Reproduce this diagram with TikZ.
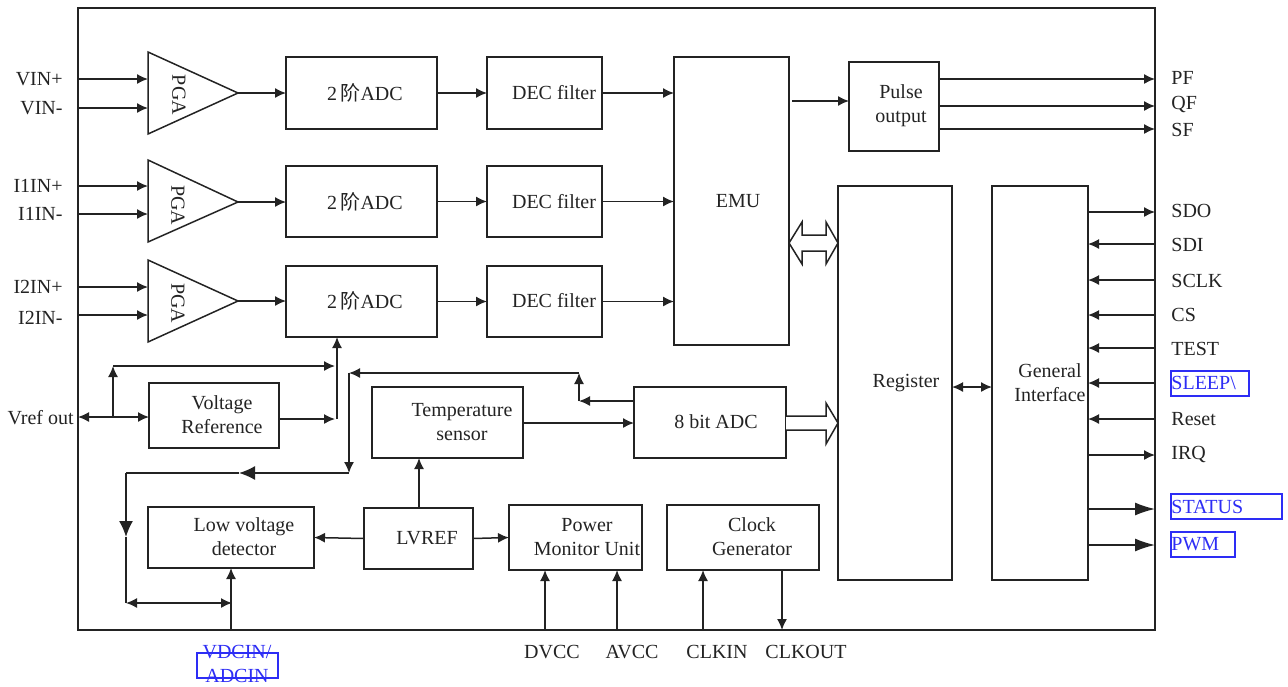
\documentclass[tikz,border=0pt]{standalone}
\usepackage{fontspec}
\setmainfont{Liberation Serif}
\newfontfamily\cjk{Noto Sans CJK SC}
\usetikzlibrary{arrows.meta,fit,calc}
\definecolor{ink}{RGB}{35,35,35}
\definecolor{pinblue}{RGB}{45,45,245}
\tikzset{
  x=0.5pt, y=-0.5pt,
  every node/.style={font=\fontsize{10pt}{12pt}\selectfont, text=ink},
  blk/.style={draw=ink, line width=0.75pt, inner sep=0pt, outer sep=0pt, rectangle},
  txt/.style={align=center, inner sep=0pt},
  wire/.style={draw=ink, line width=0.75pt},
  arr/.style={wire, -{Latex[length=5.5pt,width=5pt]}},
  barr/.style={wire, {Latex[length=5.5pt,width=5pt]}-{Latex[length=5.5pt,width=5pt]}},
  bigarr/.style={wire, -{Latex[length=8pt,width=7pt]}},
  pinarr/.style={wire, -{Latex[length=10pt,width=6.5pt]}},
  hollow/.style={draw=ink, fill=white, line width=0.75pt, line join=miter},
  pinl/.style={anchor=west, inner sep=0pt},
  pinr/.style={anchor=east, inner sep=0pt},
  bluebox/.style={draw=pinblue, line width=0.9pt},
}
\newcommand\blkbox[8]{\node[blk, fit={(#2,#3) (#4,#5)}] (#1) {};\node[txt] (#1-t) at (#6,#7) {#8};}
\begin{document}
\begin{tikzpicture}
\useasboundingbox (0,0) rectangle (1288,686);
% outer frame
\node[blk, line width=1pt, fit={(78,8) (1155,630)}] (frame) {};

% blocks
\blkbox{adc1}{286}{57}{437}{129}{365}{93}{2\,{\cjk 阶}ADC}
\blkbox{adc2}{286}{166}{437}{237}{365}{202}{2\,{\cjk 阶}ADC}
\blkbox{adc3}{286}{266}{437}{337}{365}{301}{2\,{\cjk 阶}ADC}
\blkbox{dec1}{487}{57}{602}{129}{554}{93}{DEC filter}
\blkbox{dec2}{487}{166}{602}{237}{554}{202}{DEC filter}
\blkbox{dec3}{487}{266}{602}{337}{554}{301}{DEC filter}
\blkbox{emu}{674}{57}{789}{345}{738}{201}{EMU}
\blkbox{pulse}{849}{62}{939}{151}{901}{106}{Pulse\\output}
\blkbox{reg}{838}{186}{952}{580}{906}{383}{Register}
\blkbox{gi}{992}{186}{1088}{580}{1050}{383}{General\\Interface}
\blkbox{vr}{149}{383}{279}{448}{222}{415}{Voltage\\Reference}
\blkbox{temp}{372}{387}{523}{458}{462}{422}{Temperature\\sensor}
\blkbox{adc8}{634}{387}{786}{458}{716}{422}{8 bit ADC}
\blkbox{lvd}{148}{507}{314}{568}{244}{537}{Low voltage\\detector}
\blkbox{lvref}{364}{508}{473}{569}{427}{538}{LVREF}
\blkbox{pmu}{509}{505}{642}{570}{587}{537}{Power\\Monitor Unit}
\blkbox{clk}{667}{505}{819}{570}{752}{537}{Clock\\Generator}

% PGA triangles
\foreach \i/\t/\a/\b in {1/52/93/134, 2/160/202/242, 3/260/301/342}{
  \draw[wire, line join=miter] (148,\t) -- (238,\a) -- (148,\b) -- cycle;
  \coordinate (pga\i o) at (238,\a);
}
\node[txt, rotate=-90] (pga1t) at (179,95) {PGA};
\node[txt, rotate=-90] (pga2t) at (178,205) {PGA};
\node[txt, rotate=-90] (pga3t) at (178,303) {PGA};

% left input pins
\node[pinr] (vinp) at (63,79) {VIN+};
\node[pinr] (vinm) at (63,108) {VIN-};
\node[pinr] (i1p) at (63,186) {I1IN+};
\node[pinr] (i1m) at (63,214) {I1IN-};
\node[pinr] (i2p) at (63,287) {I2IN+};
\node[pinr] (i2m) at (63,318) {I2IN-};
\foreach \n/\y in {vinp/79, vinm/108, i1p/186, i1m/214, i2p/287, i2m/315}{
  \draw[arr] (frame.west |- 0,\y) -- (148,\y);
}

% PGA -> ADC -> DEC -> EMU
\foreach \i in {1,2,3}{
  \draw[arr] (pga\i o) -- (adc\i.west |- pga\i o);
  \draw[arr] (adc\i.east) -- (dec\i.west);
  \draw[arr] (dec\i.east) -- (dec\i.east -| emu.west);
}

% EMU -> pulse
\draw[arr] (792,101) -- (pulse.west |- 0,101);

% pulse outputs
\node[pinl] (pf) at (1171,78) {PF};
\node[pinl] (qf) at (1171,104) {QF};
\node[pinl] (sf) at (1171,130) {SF};
\draw[arr] (pulse.east |- 0,79) -- (frame.east |- 0,79);
\draw[arr] (pulse.east |- 0,106) -- (frame.east |- 0,106);
\draw[arr] (pulse.east |- 0,129) -- (frame.east |- 0,129);

% EMU <=> Register hollow double arrow
\draw[hollow] (emu.east |- 0,243) -- (802,222) -- (802,235) -- (826,235) -- (826,222) -- (reg.west |- 0,243)
  -- (826,264) -- (826,251) -- (802,251) -- (802,264) -- cycle;

% 8 bit ADC => Register hollow arrow
\draw[hollow] (adc8.east |- 0,416) -- (826,416) -- (826,403) -- (reg.west |- 0,423) -- (826,444) -- (826,430) -- (adc8.east |- 0,430);

% Register <-> General interface
\draw[barr] (reg.east |- 0,387) -- (gi.west |- 0,387);

% right-side interface pins
\node[pinl] (sdo) at (1171,211) {SDO};
\node[pinl] (sdi) at (1171,245) {SDI};
\node[pinl] (sclk) at (1171,281) {SCLK};
\node[pinl] (cs) at (1171,315) {CS};
\node[pinl] (test) at (1171,349) {TEST};
\node[pinl, text=pinblue] (sleep) at (1171,383) {SLEEP\textbackslash};
\node[pinl] (reset) at (1171,419) {Reset};
\node[pinl] (irq) at (1171,454) {IRQ};
\node[pinl, text=pinblue] (status) at (1171,507) {STATUS};
\node[pinl, text=pinblue] (pwm) at (1171,544) {PWM};
\draw[bluebox] (1171,371) rectangle (1249,396);
\draw[bluebox] (1171,494) rectangle (1282,519);
\draw[bluebox] (1171,532) rectangle (1235,557);

\draw[arr] (gi.east |- 0,212) -- (frame.east |- 0,212);
\foreach \y in {244,280,315,348,383,419}{
  \draw[arr] (frame.east |- 0,\y) -- (gi.east |- 0,\y);
}
\draw[arr] (gi.east |- 0,455) -- (frame.east |- 0,455);
\draw[pinarr] (gi.east |- 0,509) -- (frame.east |- 0,509);
\draw[pinarr] (gi.east |- 0,545) -- (frame.east |- 0,545);

% Voltage reference wiring
\node[pinr] (vref) at (74,418) {Vref out};
\draw[barr] (frame.west |- 0,417) -- (vr.west |- 0,417);
\coordinate (j1) at (113,417);
\coordinate (j2) at (113,366);
\draw[arr] (j1) -- (j2);
\draw[arr] (j2) -- (335,366);
\draw[arr] (vr.east |- 0,419) -- (335,419);
\draw[arr] (337,419) -- (adc3.south -| 337,0);

% temperature / 8-bit ADC loop
\coordinate (c1) at (579,401);
\coordinate (c2) at (579,373);
\coordinate (c3) at (349,373);
\coordinate (c4) at (349,473);
\coordinate (c5) at (239,473);
\coordinate (c6) at (126,473);
\coordinate (c7) at (126,537);
\coordinate (c8) at (126,603);
\coordinate (c9) at (232,603);
\draw[arr] (adc8.west |- c1) -- (c1);
\draw[arr] (c1) -- (c2);
\draw[arr] (c2) -- (c3);
\draw[arr] (c3) -- (c4);
\draw[bigarr] (c4) -- (c5);
\draw[wire] (c5) -- (c6);
\draw[bigarr] (c6) -- (c7);
\draw[wire] (c7) -- (c8);
\draw[barr] (c8) -- (c9);
\draw[arr] (frame.south -| lvd.south) -- (lvd.south);
\draw[arr] (temp.east |- 0,423) -- (adc8.west |- 0,423);

% LVREF wiring
\draw[arr] (lvref.west) -- (lvd.east);
\draw[arr] (lvref.north -| 419,0) -- (temp.south -| 419,0);
\draw[arr] (lvref.east) -- (pmu.west);

% bottom pins
\node[txt] (dvcc) at (552,652) {DVCC};
\node[txt] (avcc) at (632,652) {AVCC};
\node[txt] (clkin) at (717,652) {CLKIN};
\node[txt] (clkout) at (806,652) {CLKOUT};
\draw[arr] (frame.south -| 545,0) -- (pmu.south -| 545,0);
\draw[arr] (frame.south -| 617,0) -- (pmu.south -| 617,0);
\draw[arr] (frame.south -| 703,0) -- (clk.south -| 703,0);
\draw[arr] (clk.south -| 782,0) -- (frame.south -| 782,0);

% VDCIN/ADCIN
\node[txt, text=pinblue] (vdcin) at (237,664) {VDCIN/\\ADCIN};
\draw[bluebox] (197,653) rectangle (278,678);
\end{tikzpicture}
\end{document}
